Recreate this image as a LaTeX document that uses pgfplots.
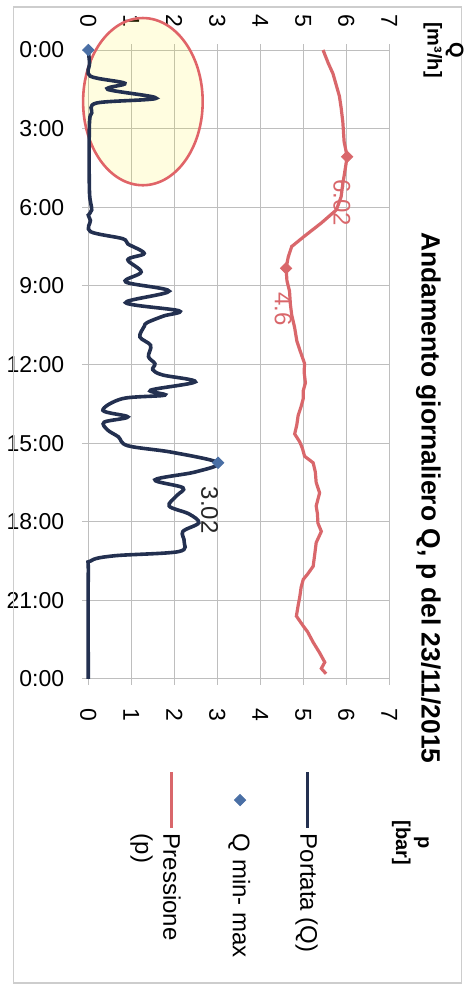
\documentclass[border=0pt]{standalone}
\usepackage{fontspec}
\setmainfont{Liberation Sans}
\usepackage{pgfplots}
\usepackage{pgfplotstable}
\pgfplotsset{compat=1.18}
\usetikzlibrary{shapes.geometric}

\definecolor{qline}{RGB}{35,48,80}
\definecolor{pline}{RGB}{217,103,107}
\definecolor{qmark}{RGB}{74,111,165}
\definecolor{gridc}{RGB}{190,190,190}
\definecolor{framec}{RGB}{205,205,205}
\definecolor{ellline}{RGB}{224,100,104}

% portata Q [m3/h], time in hours
\pgfplotstableread{
t q
0.00 0.00
0.50 0.03
1.00 0.05
1.27 0.85
1.50 0.45
1.84 1.58
2.02 0.20
2.40 0.08
2.70 0.03
4.00 0.02
5.50 0.03
6.10 0.08
6.30 0.00
6.50 0.05
6.93 0.05
7.20 0.80
7.40 0.92
7.76 1.30
8.00 0.92
8.47 1.23
8.85 0.87
9.20 1.88
9.64 0.87
9.95 2.11
10.15 1.75
10.40 1.37
10.55 1.30
10.95 1.20
11.27 1.45
11.70 1.40
11.97 1.55
12.20 1.50
12.40 1.73
12.66 2.49
12.98 1.45
13.17 1.78
13.30 0.80
13.75 0.34
14.00 0.92
14.20 0.37
14.50 0.45
14.76 0.70
15.10 0.92
15.35 1.95
15.75 3.02
16.10 2.49
16.40 1.55
16.70 2.20
17.00 2.06
17.40 1.88
17.70 2.34
18.04 2.57
18.37 2.20
18.76 2.23
19.14 2.10
19.30 0.60
19.50 0.05
20.00 0.00
24.00 0.00
}\portata

% pressione p [bar]
\pgfplotstableread{
t p
0.00 5.46
0.50 5.58
0.90 5.69
1.30 5.76
1.76 5.84
2.20 5.88
2.75 5.92
3.50 5.95
4.07 6.02
4.60 5.97
5.10 5.92
5.60 5.88
6.10 5.77
6.60 5.42
7.10 5.03
7.50 4.73
7.90 4.65
8.33 4.60
8.80 4.62
9.20 4.68
9.70 4.70
10.10 4.73
10.60 4.80
11.10 4.85
11.45 4.92
11.96 5.03
12.30 5.02
12.70 5.05
13.00 5.00
13.30 5.00
13.60 4.95
13.95 4.88
14.30 4.85
14.65 4.80
14.96 4.92
15.20 4.98
15.50 5.03
15.75 5.23
16.10 5.28
16.50 5.30
16.90 5.38
17.40 5.30
17.70 5.33
18.05 5.34
18.37 5.42
18.80 5.30
19.20 5.27
19.70 5.23
20.00 5.10
20.20 5.00
20.50 4.95
20.85 4.92
21.20 4.88
21.60 4.84
21.98 5.00
22.20 5.10
22.60 5.23
23.00 5.38
23.36 5.50
23.60 5.42
23.80 5.53
}\pressione

\begin{document}
\begin{tikzpicture}[rotate=-90, transform shape]
\begin{axis}[
  scale only axis, width=314.5pt, height=150.5pt,
  xmin=0, xmax=24, ymin=0, ymax=7,
  xtick={0,3,...,24},
  xticklabels={0:00,3:00,6:00,9:00,12:00,15:00,18:00,21:00,0:00},
  ytick={0,1,...,7},
  xtick pos=left, ytick pos=left,
  tick align=outside, major tick length=3pt,
  grid=major,
  grid style={gridc, line width=0.5pt},
  axis line style={gridc, line width=0.5pt},
  tick style={gridc, line width=0.5pt},
  tick label style={font=\fontsize{11.5}{13}\selectfont},
  /pgf/number format/assume math mode=true,
  xticklabel style={rotate=90, anchor=east},
  xticklabel shift=5.5pt,
  yticklabel shift=5pt,
  every axis y label/.style={at={(axis description cs:0,1.18)}, anchor=center, align=center, font=\bfseries\fontsize{10}{11}\selectfont},
  ylabel={Q\\{[m³/h]}},
  title={Andamento giornaliero Q, p del 23/11/2015},
  every axis title/.style={at={(axis description cs:0.712,1.13)}, anchor=center, font=\bfseries\fontsize{13.2}{15}\selectfont},
  clip=false,
  legend style={at={(axis description cs:1.135,0.79)}, anchor=north west, draw=none, fill=none,
    font=\fontsize{12}{14}\selectfont, row sep=19.5pt, cells={anchor=west}},
  legend image code/.code={\draw[mark repeat=2, mark phase=2, #1] plot coordinates {(0pt,0pt) (14pt,0pt) (28pt,0pt)};},
]
% annotation ellipse round the night-time flow
\node[ellipse, draw=ellline, line width=1.3pt, fill=yellow, fill opacity=0.12, draw opacity=1,
  inner sep=0pt, minimum width=83.6pt, minimum height=59.8pt] at (axis cs:1.97,1.27) {};

\addplot[qline, line width=1.8pt, smooth, tension=0.55] table[x=t, y=q] {\portata};
\addlegendentry{Portata (Q)}

\addplot[only marks, mark=square*, mark size=2pt, mark options={rotate=45, fill=qmark, draw=qmark}]
  coordinates {(0,0) (15.75,3.02)};
\addlegendentry{Q min- max}

\addplot[pline, line width=1.6pt] table[x=t, y=p] {\pressione};
\addlegendentry{\begin{tabular}[t]{@{}l@{}}Pressione\\(p)\end{tabular}}

\addplot[forget plot, only marks, mark=square*, mark size=2pt, mark options={rotate=45, fill=pline, draw=pline}]
  coordinates {(4.07,6.02) (8.33,4.6)};

% value labels of the min / max points
\node[anchor=west, font=\fontsize{12}{14}\selectfont, text=black!85] at (axis cs:16.4,2.82) {3.02};
\node[anchor=west, font=\fontsize{12}{14}\selectfont, text=pline] at (axis cs:4.66,5.9) {6.02};
\node[anchor=west, font=\fontsize{12}{14}\selectfont, text=pline] at (axis cs:8.97,4.53) {4.6};

% chart frame and page margins
\draw[framec, line width=0.6pt] (rel axis cs:-0.0684,-0.249) rectangle (rel axis cs:1.4833,1.239);
\path (rel axis cs:-0.0795,-0.2724) rectangle (rel axis cs:1.4913,1.2625);
\end{axis}

\begin{axis}[
  scale only axis, width=314.5pt, height=150.5pt,
  xmin=0, xmax=24, ymin=0, ymax=7,
  hide x axis,
  axis y line*=right,
  axis line style={draw=none},
  ytick={0,1,...,7},
  tick align=outside, major tick length=3pt,
  tick style={gridc, line width=0.5pt},
  tick label style={font=\fontsize{11.5}{13}\selectfont},
  /pgf/number format/assume math mode=true,
  yticklabel shift=8pt,
  every axis y label/.style={at={(axis description cs:1.2607,1.07)}, anchor=center, align=center, font=\bfseries\fontsize{10}{11}\selectfont},
  ylabel={p\\{[bar]}},
]
\addplot[draw=none, forget plot] coordinates {(0,0) (24,7)};
\end{axis}
\end{tikzpicture}
\end{document}
